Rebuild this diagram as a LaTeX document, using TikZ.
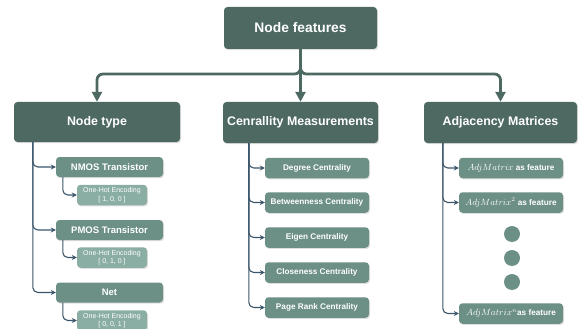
\documentclass[tikz,border=0pt]{standalone}
\usepackage[no-math]{fontspec}
\setmainfont{Liberation Sans}
\usetikzlibrary{arrows.meta,shadows}

\definecolor{boxdark}{HTML}{4E6962}
\definecolor{boxmid}{HTML}{6C8F86}
\definecolor{boxlight}{HTML}{8AADA4}
\definecolor{linkblue}{HTML}{3A556A}

\tikzset{
  boxbase/.style={rounded corners=3.5pt, inner sep=0pt, text=white, align=center,
    drop shadow={shadow xshift=1pt, shadow yshift=-1.2pt, opacity=0.25}},
  mainbox/.style={boxbase, fill=boxdark, font=\bfseries\fontsize{12.4}{14}\selectfont},
  kindbox/.style={boxbase, fill=boxmid, minimum width=107pt, minimum height=20pt,
    font=\bfseries\fontsize{9.5}{11}\selectfont},
  codebox/.style={boxbase, fill=boxlight, minimum width=70pt, minimum height=20.5pt,
    font=\fontsize{7}{8.6}\selectfont},
  measbox/.style={boxbase, fill=boxmid, minimum width=104pt, minimum height=20.5pt,
    font=\bfseries\fontsize{8.2}{10}\selectfont},
  dotmark/.style={circle, fill=boxmid, minimum size=16pt, inner sep=0pt},
  bus/.style={draw=boxdark, line width=2.8pt, rounded corners=6pt,
    -{Triangle[length=10pt,width=10pt]}},
  sub/.style={draw=linkblue, line width=1.1pt, rounded corners=5pt,
    -{Stealth[length=5pt,width=5pt]}},
}
\newcommand{\adjm}[1]{{\fontsize{9.2}{10}\selectfont$AdjMatrix#1$}}

\begin{document}
\begin{tikzpicture}[x=1pt,y=-1pt]
\useasboundingbox (0,0) rectangle (579,329);
\clip (0,0) rectangle (579,329);

% root and first level
\node[mainbox, font=\bfseries\fontsize{13.8}{16}\selectfont, minimum width=153pt, minimum height=42pt]
  (root) at (300.5,28) {Node features};
\node[mainbox, minimum width=166pt, minimum height=40pt] (ntype) at (97,122) {Node type};
\node[mainbox, minimum width=155pt, minimum height=41pt] (cent) at (300.5,122.5) {Cenrallity Measurements};
\node[mainbox, minimum width=153pt, minimum height=41pt] (adj) at (500.5,122.5) {Adjacency Matrices};

\coordinate (split) at (300.5,74);
\draw[bus] (root.south) -- (split) -| (ntype.north);
\draw[bus] (root.south) -- (split) -| (adj.north);
\draw[bus] (root.south) -- (cent.north);

% node type branch
\node[kindbox] (nmos) at (109.5,167) {NMOS Transistor};
\node[codebox] (c1) at (112,195) {One-Hot Encoding\\{[} 1, 0, 0 ]};
\node[kindbox] (pmos) at (109.5,230) {PMOS Transistor};
\node[codebox] (c2) at (112,257.5) {One-Hot Encoding\\{[} 0, 1, 0 ]};
\node[kindbox] (net) at (109.5,292.5) {Net};
\node[codebox] (c3) at (112,320.5) {One-Hot Encoding\\{[} 0, 0, 1 ]};

\draw[sub] ([xshift=19pt]ntype.south west) |- (nmos.west);
\draw[sub] ([xshift=19pt]ntype.south west) |- (pmos.west);
\draw[sub] ([xshift=19pt]ntype.south west) |- (net.west);
\draw[sub] ([xshift=7pt]nmos.south west) |- (c1.west);
\draw[sub] ([xshift=7pt]pmos.south west) |- (c2.west);
\draw[sub] ([xshift=7pt]net.south west) |- (c3.west);

% centrality branch
\node[measbox] (deg) at (317,168) {Degree Centrality};
\node[measbox] (btw) at (317,202.5) {Betweenness Centrality};
\node[measbox] (eig) at (317,237.5) {Eigen Centrality};
\node[measbox] (clo) at (317,272.5) {Closeness Centrality};
\node[measbox] (pgr) at (317,307.5) {Page Rank Centrality};

\foreach \t in {deg,btw,eig,clo,pgr}
  \draw[sub] ([xshift=26pt]cent.south west) |- (\t.west);

% adjacency branch
\node[measbox] (a1) at (511,168) {\adjm{} as feature};
\node[measbox] (a2) at (511,202.5) {\adjm{^2} as feature};
\node[dotmark] (d1) at (512,234) {};
\node[dotmark] (d2) at (512,258) {};
\node[dotmark] (d3) at (512,282) {};
\node[measbox] (an) at (511,313.5) {\adjm{^n}as feature};

\foreach \t in {a1,a2,an}
  \draw[sub] ([xshift=19pt]adj.south west) |- (\t.west);
\end{tikzpicture}
\end{document}
